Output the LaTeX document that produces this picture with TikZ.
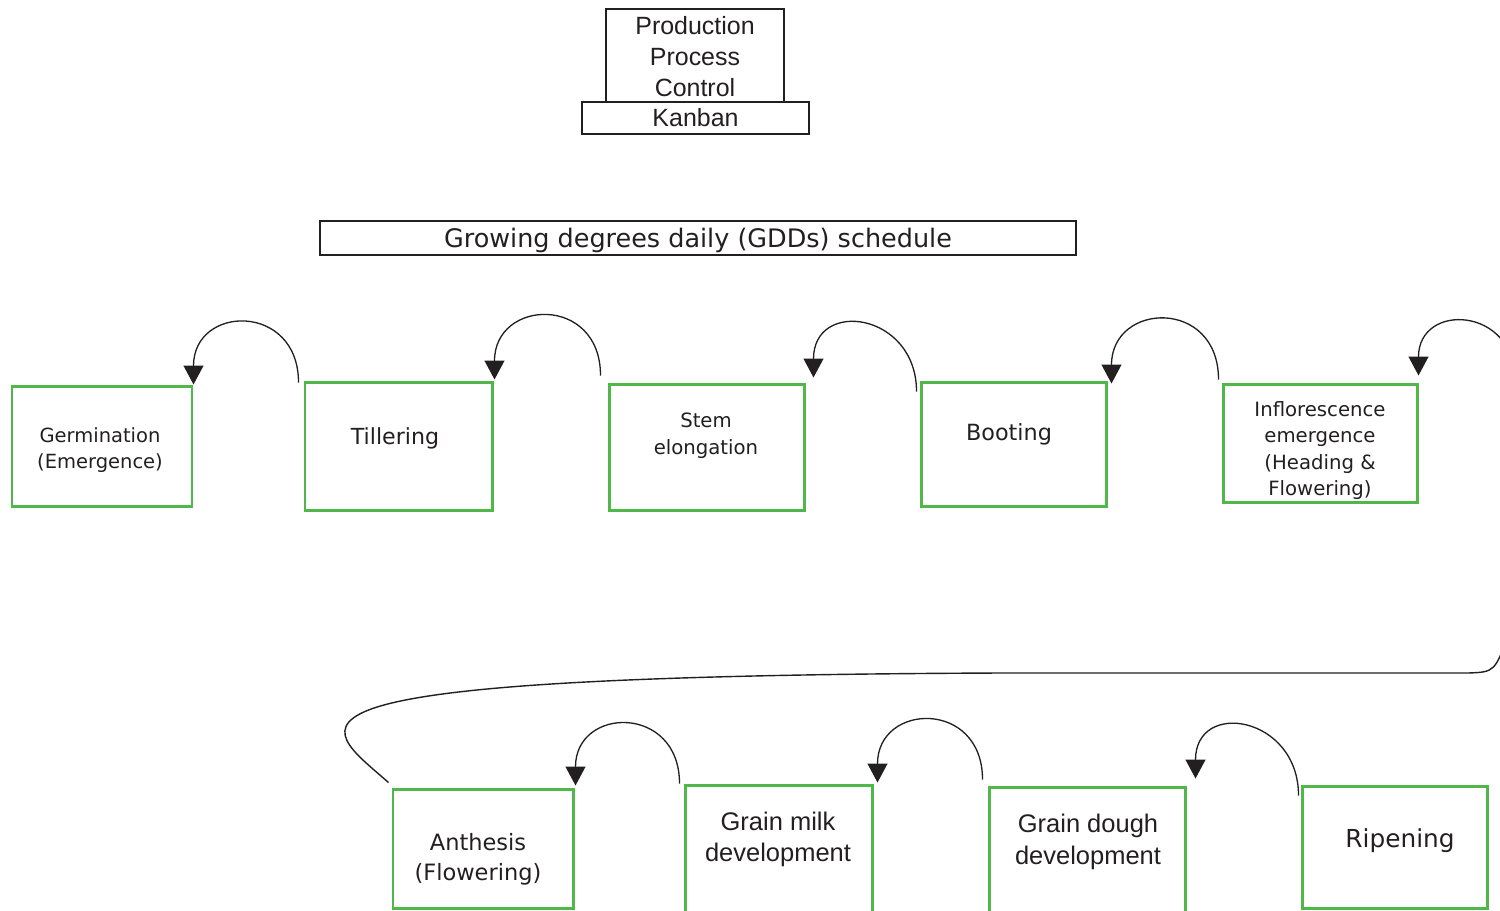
\documentclass[tikz,border=0pt]{standalone}
\usepackage{fontspec}
\setmainfont{DejaVu Sans}
\newfontfamily\arialfont{Liberation Sans}
\usetikzlibrary{arrows.meta,calc}
\definecolor{stagegreen}{RGB}{80,184,72}
\definecolor{ink}{RGB}{35,31,32}
\newcommand{\setfs}[2]{\fontsize{#1}{#2}\selectfont}

\begin{document}
\begin{tikzpicture}[x=0.2mm,y=0.2mm,
  stage/.style={draw=stagegreen,line width=1.7pt},
  plain/.style={draw=ink,line width=0.85pt,inner sep=0pt,text=ink,align=center},
  txt/.style={text=ink,inner sep=0pt,align=center},
  cyc/.style={draw=ink,line width=0.75pt,-{Triangle[length=3.8mm,width=4mm]}}]
\useasboundingbox (0,0) rectangle (1500,-910);
\clip (0,0) rectangle (1500,-910);

\node[plain,minimum width=35.6mm,minimum height=18.6mm] (ppc) at (695,-55.5) {};
\node[txt,font=\arialfont\setfs{14.2}{17.6}] (ppctxt) at (695,-57) {Production\\Process\\Control};
\node[plain,minimum width=45.4mm,minimum height=6.4mm,font=\arialfont\setfs{14.2}{17.6}] (kanban) at (695.5,-118) {Kanban};
\node[plain,minimum width=151.2mm,minimum height=6.8mm] (gdd) at (698,-238) {};
\node[txt,font=\setfs{14.5}{16}] (gddtxt) at (698,-240) {Growing degrees daily (GDDs) schedule};

\node[stage,minimum width=36mm,minimum height=24mm] (germ) at (102,-446) {};
\node[stage,minimum width=37.4mm,minimum height=25.6mm] (till) at (398.5,-446) {};
\node[stage,minimum width=39mm,minimum height=25.2mm] (stem) at (706.5,-447) {};
\node[stage,minimum width=37mm,minimum height=24.8mm] (boot) at (1013.5,-444) {};
\node[stage,minimum width=38.8mm,minimum height=23.6mm] (infl) at (1320,-443) {};
\node[stage,minimum width=36mm,minimum height=23.8mm] (anth) at (483,-848.5) {};
\node[stage,minimum width=37.4mm,minimum height=27mm] (milk) at (778.5,-852.5) {};
\node[stage,minimum width=39.2mm,minimum height=26.6mm] (dough) at (1087,-853.5) {};
\node[stage,minimum width=37mm,minimum height=24.4mm] (ripe) at (1394.5,-847) {};

\node[txt,font=\setfs{11.1}{14.8}] (germtxt) at (100,-450) {Germination\\(Emergence)};
\node[txt,font=\setfs{12.6}{15}] (tilltxt) at (395,-438) {Tillering};
\node[txt,font=\setfs{11.2}{15.4}] (stemtxt) at (706,-435.5) {Stem\\elongation};
\node[txt,font=\setfs{12.7}{15}] (boottxt) at (1009,-434) {Booting};
\node[txt,font=\setfs{11.2}{15}] (infltxt) at (1320,-450.5) {Inflorescence\\emergence\\(Heading \&\\Flowering)};
\node[txt,font=\setfs{12.8}{17}] (anthtxt) at (478,-859) {Anthesis\\(Flowering)};
\node[txt,font=\arialfont\setfs{14.5}{17.6}] (milktxt) at (778,-839.5) {Grain milk\\development};
\node[txt,font=\arialfont\setfs{14.5}{18.2}] (doughtxt) at (1088,-842) {Grain dough\\development};
\node[txt,font=\setfs{14.1}{17}] (ripetxt) at (1400,-841) {Ripening};

\coordinate (offA) at (1515,-380);
\coordinate (offB) at (1510,-630);

\draw[cyc] ($(till.north west)+(-5,-2)$) to[out=90,in=90,looseness=1.95] (germ.north east);
\draw[cyc] ($(stem.north west)+(-7,7)$) to[out=90,in=90,looseness=1.95] ($(till.north east)+(1,1)$);
\draw[cyc] ($(boot.north west)+(-3,-11)$) to[out=90,in=90,looseness=1.95] ($(stem.north east)+(8,5)$);
\draw[cyc] ($(infl.north west)+(-3,3)$) to[out=90,in=90,looseness=1.95] ($(boot.north east)+(4,-3)$);
\draw[cyc] (offA) to[out=90,in=90,looseness=1.95] ($(infl.north east)+(0,7)$);
\draw[cyc] ($(milk.north west)+(-4,0)$) to[out=90,in=90,looseness=1.95] ($(anth.north east)+(1,2)$);
\draw[cyc] ($(dough.north west)+(-5,6)$) to[out=90,in=90,looseness=1.95] ($(milk.north east)+(4,1)$);
\draw[cyc] ($(ripe.north west)+(-2,-11)$) to[out=90,in=90,looseness=1.95] ($(dough.north east)+(9,7)$);

\draw[draw=ink,line width=0.8pt] (offB) .. controls (1495,-672) .. (1468,-673) -- (1000,-673)
  .. controls (230,-676) and (320,-722) .. ($(anth.north west)+(-3,5)$);
\end{tikzpicture}
\end{document}
